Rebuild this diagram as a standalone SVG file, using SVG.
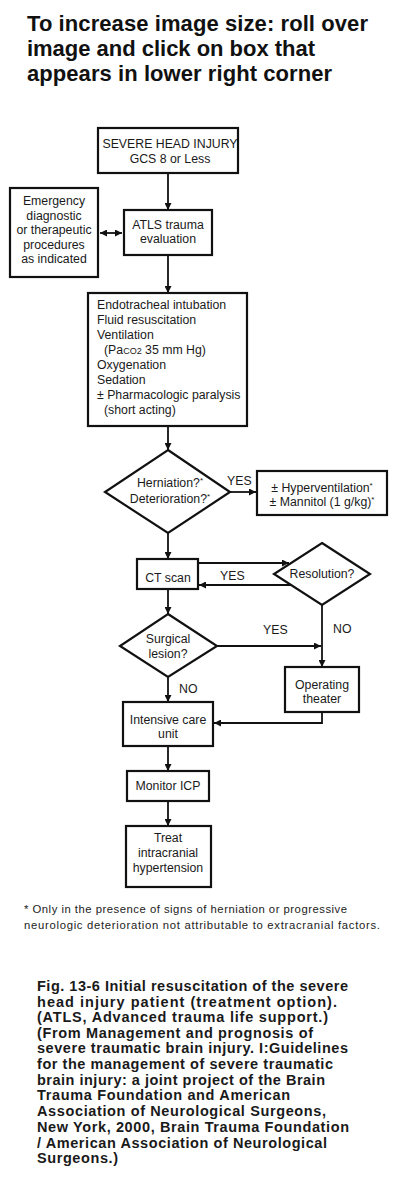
<svg xmlns="http://www.w3.org/2000/svg" width="400" height="1200" viewBox="0 0 400 1200">
<style>
.title{font-family:"Liberation Sans",Arial,sans-serif;font-weight:bold;font-size:22px;fill:#111}
.t{font-family:"Liberation Sans",Arial,sans-serif;font-size:12.3px;fill:#1a1a1a}
.c{text-anchor:middle}
.box{fill:#fff;stroke:#111;stroke-width:2.2}
.ln{fill:none;stroke:#111;stroke-width:1.8}
.foot{font-family:"Liberation Sans",Arial,sans-serif;font-size:11.3px;fill:#222}
.cap{font-family:"Liberation Sans",Arial,sans-serif;font-weight:bold;font-size:14.5px;fill:#1a1a1a}
.sup{font-size:8px}
</style>
<defs>
<marker id="ah" viewBox="0 0 10 10" refX="10" refY="5" markerWidth="7" markerHeight="7" markerUnits="userSpaceOnUse" orient="auto-start-reverse">
<path d="M0,0 L10,5 L0,10 z" fill="#111"/>
</marker>
</defs>
<rect width="400" height="1200" fill="#fff"/>
<g id="title">
<text class="title" x="27" y="31" textLength="341" lengthAdjust="spacing">To increase image size: roll over</text>
<text class="title" x="27" y="56" textLength="288" lengthAdjust="spacing">image and click on box that</text>
<text class="title" x="27" y="81" textLength="305" lengthAdjust="spacing">appears in lower right corner</text>
</g>
<g id="connectors">
<line class="ln" x1="168" y1="173" x2="168" y2="210" marker-end="url(#ah)"/>
<line class="ln" x1="100" y1="233" x2="122" y2="233" marker-start="url(#ah)" marker-end="url(#ah)"/>
<line class="ln" x1="168" y1="255" x2="168" y2="293" marker-end="url(#ah)"/>
<line class="ln" x1="168" y1="426" x2="168" y2="450" marker-end="url(#ah)"/>
<line class="ln" x1="230" y1="492" x2="256" y2="492" marker-end="url(#ah)"/>
<line class="ln" x1="168" y1="533" x2="168" y2="559" marker-end="url(#ah)"/>
<line class="ln" x1="198" y1="563" x2="289" y2="563" marker-end="url(#ah)"/>
<line class="ln" x1="291" y1="585" x2="199" y2="585" marker-end="url(#ah)"/>
<line class="ln" x1="322" y1="605" x2="322" y2="667" marker-end="url(#ah)"/>
<line class="ln" x1="168" y1="589" x2="168" y2="614" marker-end="url(#ah)"/>
<line class="ln" x1="217" y1="646" x2="321" y2="646" marker-end="url(#ah)"/>
<line class="ln" x1="168" y1="677" x2="168" y2="702" marker-end="url(#ah)"/>
<polyline class="ln" points="322,712 322,723 214,723" marker-end="url(#ah)"/>
<line class="ln" x1="168" y1="746" x2="168" y2="771" marker-end="url(#ah)"/>
<line class="ln" x1="168" y1="801" x2="168" y2="826" marker-end="url(#ah)"/>
<text class="t" x="227" y="485">YES</text>
<text class="t" x="220" y="580">YES</text>
<text class="t" x="333" y="633">NO</text>
<text class="t" x="263" y="634">YES</text>
<text class="t" x="179" y="693">NO</text>
</g>
<g id="severe">
<rect class="box" x="98" y="128" width="140" height="45"/>
<text class="t c" x="170" y="148">SEVERE HEAD INJURY</text>
<text class="t c" x="170" y="163">GCS 8 or Less</text>
</g>
<g id="emergency">
<rect class="box" x="10" y="188" width="88" height="89"/>
<text class="t c" x="54" y="205">Emergency</text>
<text class="t c" x="54" y="219.5">diagnostic</text>
<text class="t c" x="54" y="234">or therapeutic</text>
<text class="t c" x="54" y="248.5">procedures</text>
<text class="t c" x="54" y="263">as indicated</text>
</g>
<g id="atls">
<rect class="box" x="124" y="210" width="88" height="45"/>
<text class="t c" x="168" y="229">ATLS trauma</text>
<text class="t c" x="168" y="243">evaluation</text>
</g>
<g id="resus">
<rect class="box" x="88" y="293" width="159" height="133"/>
<text class="t" x="97" y="309">Endotracheal intubation</text>
<text class="t" x="97" y="324">Fluid resuscitation</text>
<text class="t" x="97" y="339">Ventilation</text>
<text class="t" x="104" y="354">(Pa<tspan font-size="9">CO2</tspan> 35 mm Hg)</text>
<text class="t" x="97" y="369">Oxygenation</text>
<text class="t" x="97" y="384">Sedation</text>
<text class="t" x="97" y="399">± Pharmacologic paralysis</text>
<text class="t" x="104" y="414">(short acting)</text>
</g>
<g id="herniation">
<polygon class="box" points="168,450 230,492 168,533 105,492"/>
<text class="t c" x="170" y="487">Herniation?<tspan class="sup" dy="-4">*</tspan></text>
<text class="t c" x="170" y="503">Deterioration?<tspan class="sup" dy="-4">*</tspan></text>
</g>
<g id="hyper">
<rect class="box" x="257" y="471" width="130" height="44"/>
<text class="t c" x="322" y="492">± Hyperventilation<tspan class="sup" dy="-4">*</tspan></text>
<text class="t c" x="322" y="506">± Mannitol (1 g/kg)<tspan class="sup" dy="-4">*</tspan></text>
</g>
<g id="ct">
<rect class="box" x="137" y="559" width="61" height="30"/>
<text class="t c" x="168" y="582">CT scan</text>
</g>
<g id="resolution">
<polygon class="box" points="322,543 370,574 322,605 274,574"/>
<text class="t c" x="322" y="578">Resolution?</text>
</g>
<g id="surgical">
<polygon class="box" points="168,614 217,646 168,677 120,646"/>
<text class="t c" x="168" y="643">Surgical</text>
<text class="t c" x="168" y="658">lesion?</text>
</g>
<g id="operating">
<rect class="box" x="285" y="667" width="74" height="45"/>
<text class="t c" x="322" y="689">Operating</text>
<text class="t c" x="322" y="703">theater</text>
</g>
<g id="icu">
<rect class="box" x="123" y="702" width="90" height="44"/>
<text class="t c" x="168" y="724">Intensive care</text>
<text class="t c" x="168" y="738">unit</text>
</g>
<g id="monitor">
<rect class="box" x="127" y="771" width="82" height="30"/>
<text class="t c" x="168" y="790">Monitor ICP</text>
</g>
<g id="treat">
<rect class="box" x="126" y="826" width="85" height="61"/>
<text class="t c" x="168" y="842">Treat</text>
<text class="t c" x="168" y="857">intracranial</text>
<text class="t c" x="168" y="872">hypertension</text>
</g>
<g id="footnote">
<text class="foot" x="24" y="913" textLength="323" lengthAdjust="spacing">* Only in the presence of signs of herniation or progressive</text>
<text class="foot" x="24" y="929" textLength="356" lengthAdjust="spacing">neurologic deterioration not attributable to extracranial factors.</text>
</g>
<g id="caption">
<text class="cap" x="37" y="991" textLength="311" lengthAdjust="spacing">Fig. 13-6 Initial resuscitation of the severe</text>
<text class="cap" x="37" y="1007" textLength="300" lengthAdjust="spacing">head injury patient (treatment option).</text>
<text class="cap" x="37" y="1022" textLength="291" lengthAdjust="spacing">(ATLS, Advanced trauma life support.)</text>
<text class="cap" x="37" y="1038" textLength="276" lengthAdjust="spacing">(From Management and prognosis of</text>
<text class="cap" x="37" y="1053" textLength="311" lengthAdjust="spacing">severe traumatic brain injury. I:Guidelines</text>
<text class="cap" x="37" y="1069" textLength="296" lengthAdjust="spacing">for the management of severe traumatic</text>
<text class="cap" x="37" y="1085" textLength="288" lengthAdjust="spacing">brain injury: a joint project of the Brain</text>
<text class="cap" x="37" y="1100" textLength="253" lengthAdjust="spacing">Trauma Foundation and American</text>
<text class="cap" x="37" y="1116" textLength="289" lengthAdjust="spacing">Association of Neurological Surgeons,</text>
<text class="cap" x="37" y="1132" textLength="312" lengthAdjust="spacing">New York, 2000, Brain Trauma Foundation</text>
<text class="cap" x="37" y="1148" textLength="290" lengthAdjust="spacing">/ American Association of Neurological</text>
<text class="cap" x="37" y="1163" textLength="81" lengthAdjust="spacing">Surgeons.)</text>
</g>
</svg>
